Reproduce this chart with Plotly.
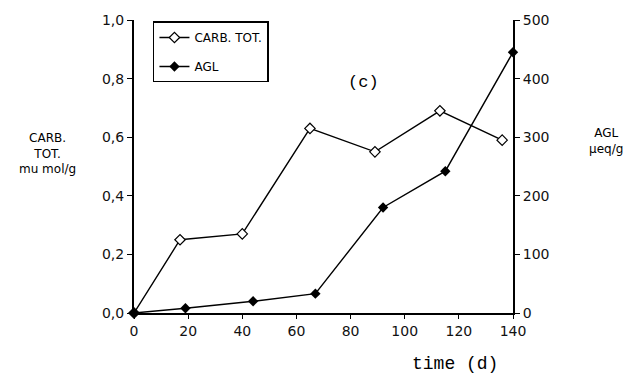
import plotly.graph_objects as go

# Sampling times (days) and measured values
carb_days = [0, 17, 40, 65, 89, 113, 136]
carb_tot = [0.0, 0.25, 0.27, 0.63, 0.55, 0.69, 0.59]   # mu mol/g

agl_days = [0, 19, 44, 67, 92, 115, 140]
agl = [0, 8, 20, 33, 180, 242, 445]                     # µeq/g

x_ticks = [0, 20, 40, 60, 80, 100, 120, 140]
left_ticks = [0.0, 0.2, 0.4, 0.6, 0.8, 1.0]
left_tick_text = ["0,0", "0,2", "0,4", "0,6", "0,8", "1,0"]
right_ticks = [0, 100, 200, 300, 400, 500]

FONT = "DejaVu Sans, sans-serif"
MONO = "Liberation Mono, DejaVu Sans Mono, monospace"

W, H = 634, 377
ML, MR, MT, MB = 134, 121, 20, 64

fig = go.Figure()

fig.add_trace(go.Scatter(
    x=carb_days, y=carb_tot, name="CARB. TOT.", legendgroup="carb",
    mode="lines+markers",
    line=dict(color="black", width=1.4),
    marker=dict(symbol="diamond", size=8, color="white",
                line=dict(color="black", width=1.2)),
    cliponaxis=False, yaxis="y",
))

fig.add_trace(go.Scatter(
    x=agl_days, y=agl, name="AGL", legendgroup="agl",
    mode="lines+markers",
    line=dict(color="black", width=1.4),
    marker=dict(symbol="diamond", size=8, color="black"),
    cliponaxis=False, yaxis="y2",
))

tick_font = dict(family=FONT, size=14, color="#111")

fig.update_layout(
    width=W, height=H,
    margin=dict(l=ML, r=MR, t=MT, b=MB),
    paper_bgcolor="white", plot_bgcolor="white",
    font=dict(family=FONT, size=13, color="black"),
    showlegend=True,
    legend=dict(
        x=0.05, y=0.995, xanchor="left", yanchor="top",
        bordercolor="black", borderwidth=1.5, bgcolor="white",
        itemwidth=30, entrywidth=88, tracegroupgap=10,
        font=dict(family=FONT, size=12),
    ),
    xaxis=dict(
        range=[0, 140], tickvals=x_ticks, showgrid=False, zeroline=False,
        showline=True, linecolor="black", linewidth=1.6,
        ticks="outside", ticklen=4, tickcolor="black",
        tickfont=tick_font,
    ),
    yaxis=dict(
        range=[0, 1.0], tickvals=left_ticks, ticktext=left_tick_text,
        showgrid=False, zeroline=False,
        showline=True, linecolor="black", linewidth=2,
        ticks="outside", ticklen=5, tickcolor="black",
        tickfont=tick_font,
    ),
    yaxis2=dict(
        range=[0, 500], tickvals=right_ticks, overlaying="y", side="right",
        showgrid=False, zeroline=False,
        showline=True, linecolor="black", linewidth=2,
        ticks="outside", ticklen=5, tickcolor="black",
        tickfont=tick_font,
    ),
)

# Text labels positioned in page pixels, converted to paper coordinates
labels = [
    dict(text="(c)", x=363, y=82, font=dict(family=MONO, size=17)),
    dict(text="time (d)", x=455, y=364, font=dict(family=MONO, size=18)),
    dict(text="CARB.<br>TOT.<br>mu mol/g", x=47, y=153,
         font=dict(family=FONT, size=12)),
    dict(text="AGL<br>µeq/g", x=606, y=141, font=dict(family=FONT, size=12)),
]
pw, ph = W - ML - MR, H - MT - MB
for a in labels:
    fig.add_annotation(
        text=a["text"], x=(a["x"] - ML) / pw, y=1 - (a["y"] - MT) / ph,
        xref="paper", yref="paper", showarrow=False,
        xanchor="center", yanchor="middle", font=a["font"],
    )

fig.write_html("out.html")
